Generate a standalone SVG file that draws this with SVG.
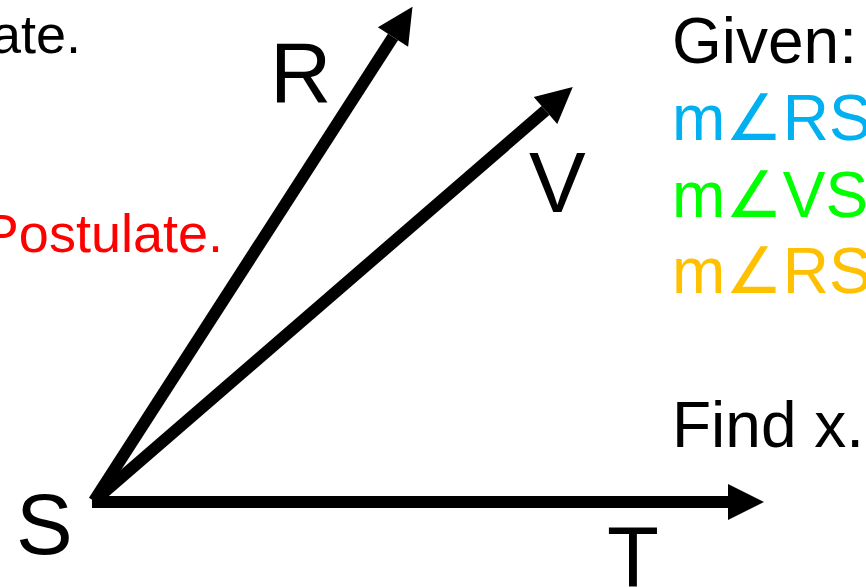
<svg xmlns="http://www.w3.org/2000/svg" width="866" height="587" viewBox="0 0 866 587">
<defs>
<marker id="ah" markerUnits="userSpaceOnUse" markerWidth="36" markerHeight="36" viewBox="0 0 36 36" refX="0" refY="18" orient="auto" overflow="visible">
<path d="M0,0 L36,18 L0,36 Z" fill="#000"/>
</marker>
</defs>
<style>
text{font-family:"Liberation Sans",Arial,"DejaVu Sans",sans-serif}
.lbl{font-size:85px;fill:#000}
.side{font-size:54px}
.given{font-size:64px}
.ray{stroke:#000;stroke-width:12;fill:none;stroke-linecap:butt;marker-end:url(#ah)}
</style>
<rect width="866" height="587" fill="#fff"/>
<g id="connectors">
<line class="ray" x1="92" y1="502" x2="728" y2="502"/>
<line class="ray" x1="94" y1="501" x2="393" y2="37"/>
<line class="ray" x1="94" y1="501" x2="545.5" y2="110.5"/>
</g>
<g id="node-R"><text class="lbl" x="270" y="102">R</text></g>
<g id="node-V"><text class="lbl" x="529" y="212">V</text></g>
<g id="node-S"><text class="lbl" x="16" y="554">S</text></g>
<g id="node-T"><text class="lbl" x="607" y="586">T</text></g>
<g id="left-text">
<text class="side" x="81" y="53" text-anchor="end" fill="#000">ate.</text>
<text class="side" x="223" y="252" text-anchor="end" fill="#FF0000">Postulate.</text>
</g>
<g id="given">
<text class="given" x="672" y="63" fill="#000">Given:</text>
<text class="given" x="672" y="140" fill="#00B0F0">m∠RST</text>
<text class="given" x="672" y="217" fill="#00FF00">m∠VST</text>
<text class="given" x="672" y="293" fill="#FFC000">m∠RST</text>
<text class="given" x="672" y="447" fill="#000">Find x.</text>
</g>
</svg>
